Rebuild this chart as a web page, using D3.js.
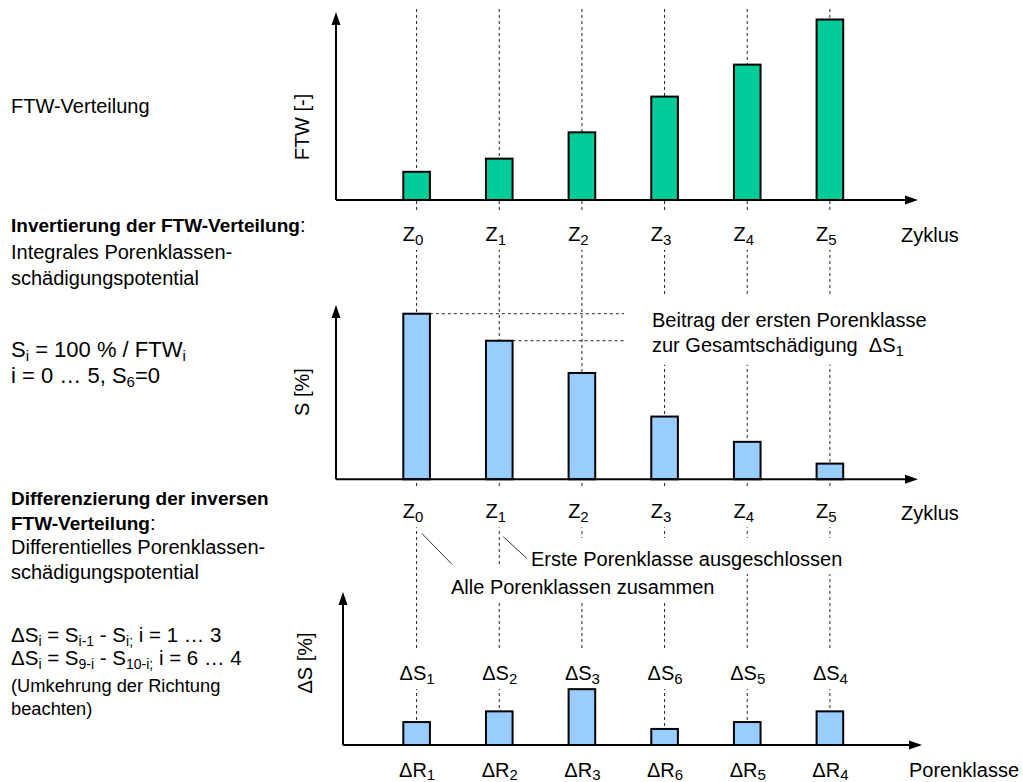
<!DOCTYPE html>
<html>
<head>
<meta charset="utf-8">
<script src="https://cdn.jsdelivr.net/npm/d3@7"></script>
<style>
  html, body { margin: 0; padding: 0; background: #fff; }
  svg { display: block; }
  text { font-family: "Liberation Sans", Arial, sans-serif; fill: #000; }
</style>
</head>
<body>
<svg id="chart" width="1023" height="782"></svg>
<script>
// ---------------- data ----------------
const cycleIndex = ["0", "1", "2", "3", "4", "5"];          // Z_i
const ftwValues = [1.5, 2.2, 3.6, 5.5, 7.2, 9.6];            // FTW [-] (schematic)
const damageValues = [95, 79.5, 61, 36, 21.5, 9];            // S [%]
const deltaSIndex = ["1", "2", "3", "6", "5", "4"];          // ΔS_i labels
const deltaRIndex = ["1", "2", "3", "6", "5", "4"];          // ΔR_i labels
const deltaSValues = [15, 22, 36.5, 10.5, 15, 22];           // ΔS [%]

// ---------------- setup ----------------
const svg = d3.select("#chart");
const FONT = 20;
const idx = d3.range(cycleIndex.length);

const x = d3.scalePoint().domain(idx).range([416.6, 829.9]);
const barW = x.step() * 0.322;

const yTop = d3.scaleLinear().domain([0, 10]).range([200, 12]);
const yMid = d3.scaleLinear().domain([0, 100]).range([479.3, 305]);
const yBot = d3.scaleLinear().domain([0, 100]).range([745, 592]);

const gLines = svg.append("g");
const gBoxes = svg.append("g");
const gText = svg.append("g");
const gBars = svg.append("g");
const gAxes = svg.append("g");

// rich text helper: parts = [[str, style]], style: "n" normal, "s" subscript, "b" bold
function rich(sel, parts, subSize, subShift, boldSize) {
  let off = 0;
  parts.forEach(([s, st]) => {
    const t = sel.append("tspan").text(s);
    if (st === "s") {
      t.attr("font-size", subSize).attr("dy", subShift - off);
      off = subShift;
    } else {
      if (off !== 0) t.attr("dy", -off);
      off = 0;
      if (st === "b") {
        t.attr("font-weight", "bold");
        if (boldSize) t.attr("font-size", boldSize);
      }
    }
  });
  return sel;
}

// white box behind a text node
function boxBehind(textSel, pad) {
  const bb = textSel.node().getBBox();
  gBoxes.append("rect")
    .attr("x", bb.x - pad[3]).attr("y", bb.y - pad[0])
    .attr("width", bb.width + pad[1] + pad[3])
    .attr("height", bb.height + pad[0] + pad[2])
    .attr("fill", "#fff");
}

// ---------------- dashed guide lines ----------------
gLines.selectAll("line.guide").data(idx).join("line")
  .attr("class", "guide")
  .attr("x1", d => x(d)).attr("x2", d => x(d))
  .attr("y1", 9).attr("y2", yBot(0))
  .attr("stroke", "#222").attr("stroke-width", 1)
  .attr("stroke-dasharray", "3,3");

// horizontal leaders in middle chart
const leaderEnds = [624, 628];
[0, 1].forEach((i) => {
  gLines.append("line")
    .attr("x1", x(i) + barW / 2).attr("x2", leaderEnds[i])
    .attr("y1", yMid(damageValues[i])).attr("y2", yMid(damageValues[i]))
    .attr("stroke", "#222").attr("stroke-width", 1)
    .attr("stroke-dasharray", "3,3");
});

// callout diagonals
gLines.append("line").attr("x1", 421.7).attr("y1", 533.3).attr("x2", 452.7).attr("y2", 565)
  .attr("stroke", "#333").attr("stroke-width", 1);
gLines.append("line").attr("x1", 503.3).attr("y1", 536.7).attr("x2", 526.7).attr("y2", 558.3)
  .attr("stroke", "#333").attr("stroke-width", 1);

// ---------------- axes & category labels ----------------
function catAxis(yPos, labels, prefix, dx, baselineOff, withBox, subShift) {
  const ax = d3.axisBottom(x).tickSize(0).tickFormat("");
  const g = gText.append("g").attr("transform", `translate(0,${yPos})`).call(ax);
  g.select(".domain").remove();
  g.selectAll(".tick text").remove();
  g.selectAll(".tick").each(function (d) {
    const tick = d3.select(this);
    const t = tick.append("text")
      .attr("x", dx).attr("y", baselineOff)
      .attr("text-anchor", "middle")
      .attr("font-size", FONT);
    rich(t, [[prefix, "n"], [labels[d], "s"]], 15, subShift);
    if (withBox) {
      const bb = t.node().getBBox();
      tick.insert("rect", "text")
        .attr("x", bb.x - 2).attr("y", bb.y - 13)
        .attr("width", bb.width + 4).attr("height", bb.height + 15)
        .attr("fill", "#fff");
    }
  });
  return g;
}

catAxis(yTop(0), cycleIndex, "Z", -4, 41, true, 4);
catAxis(yMid(0), cycleIndex, "Z", -4, 39, true, 4);
catAxis(yBot(0) - 65, deltaSIndex, "ΔS", 0, 0, true, 4);
catAxis(yBot(0), deltaRIndex, "ΔR", 0, 32, false, 3);

// axis arrows
function arrowAxes(x0, y0, yTip, xTip) {
  gAxes.append("path")
    .attr("d", `M${x0},${y0}V${yTip + 10}M${x0},${y0}H${xTip - 10}`)
    .attr("stroke", "#000").attr("stroke-width", 2).attr("fill", "none");
  gAxes.append("path")
    .attr("d", `M${x0},${yTip}L${x0 - 4.5},${yTip + 13}L${x0 + 4.5},${yTip + 13}Z`)
    .attr("fill", "#000");
  gAxes.append("path")
    .attr("d", `M${xTip},${y0}L${xTip - 13},${y0 - 4.5}L${xTip - 13},${y0 + 4.5}Z`)
    .attr("fill", "#000");
}
arrowAxes(336, yTop(0), 12, 918);
arrowAxes(336, yMid(0), 305, 918);
arrowAxes(343, yBot(0), 592, 922);

// ---------------- bars ----------------
gBars.selectAll("rect.ftw").data(ftwValues).join("rect")
  .attr("class", "ftw")
  .attr("x", (d, i) => x(i) - barW / 2).attr("width", barW)
  .attr("y", d => yTop(d)).attr("height", d => yTop(0) - yTop(d))
  .attr("fill", "#00CC99").attr("stroke", "#000").attr("stroke-width", 2);

gBars.selectAll("rect.dmg").data(damageValues).join("rect")
  .attr("class", "dmg")
  .attr("x", (d, i) => x(i) - barW / 2).attr("width", barW)
  .attr("y", d => yMid(d)).attr("height", d => yMid(0) - yMid(d))
  .attr("fill", "#99CCFF").attr("stroke", "#000").attr("stroke-width", 2);

gBars.selectAll("rect.ds").data(deltaSValues).join("rect")
  .attr("class", "ds")
  .attr("x", (d, i) => x(i) - barW / 2).attr("width", barW)
  .attr("y", d => yBot(d)).attr("height", d => yBot(0) - yBot(d))
  .attr("fill", "#99CCFF").attr("stroke", "#000").attr("stroke-width", 2);

// ---------------- annotations on the right ----------------
function noteLines(xp, y0, lines, pad) {
  const t = gText.append("text").attr("x", xp).attr("y", y0).attr("font-size", FONT)
    .style("white-space", "pre");
  lines.forEach((parts, li) => {
    const line = t.append("tspan").attr("x", xp).attr("y", y0 + li * 25);
    rich(line, parts, 15, 4);
  });
  boxBehind(t, pad);
  return t;
}
noteLines(652, 326.7, [
  [["Beitrag der ersten Porenklasse", "n"]],
  [["zur Gesamtschädigung  ΔS", "n"], ["1", "s"]]
], [14, 6, 6, 26]);
noteLines(531, 566, [[["Erste Porenklasse ausgeschlossen", "n"]]], [10, 4, 4, 4]);
noteLines(451, 594.3, [[["Alle Porenklassen zusammen", "n"]]], [12, 4, 4, 4]);

// axis titles
gText.append("text").attr("x", 901).attr("y", yTop(0) + 42).attr("font-size", FONT).text("Zyklus");
gText.append("text").attr("x", 901).attr("y", yMid(0) + 41).attr("font-size", FONT).text("Zyklus");
gText.append("text").attr("x", 909).attr("y", 777).attr("font-size", FONT).text("Porenklasse");

function vTitle(cx, cy, str) {
  gText.append("text")
    .attr("transform", `translate(${cx},${cy}) rotate(-90)`)
    .attr("text-anchor", "middle").attr("dy", "0.36em")
    .attr("font-size", FONT).text(str);
}
vTitle(302, 127, "FTW [-]");
vTitle(302, 392, "S [%]");
vTitle(305, 663, "ΔS [%]");

// ---------------- left description ----------------
const leftLines = [
  { y: 112.7, parts: [["FTW-Verteilung", "n"]] },
  { y: 232, parts: [["Invertierung der FTW-Verteilung", "b"], [":", "n"]] },
  { y: 258.5, parts: [["Integrales Porenklassen-", "n"]] },
  { y: 285, parts: [["schädigungspotential", "n"]] },
  { y: 356.5, size: 22, sub: 15, parts: [["S", "n"], ["i", "s"], [" = 100 % / FTW", "n"], ["i", "s"]] },
  { y: 383, size: 22, sub: 15, parts: [["i = 0 … 5, S", "n"], ["6", "s"], ["=0", "n"]] },
  { y: 505, parts: [["Differenzierung der inversen", "b"]] },
  { y: 529.5, parts: [["FTW-Verteilung", "b"], [":", "n"]] },
  { y: 554, parts: [["Differentielles Porenklassen-", "n"]] },
  { y: 578.5, parts: [["schädigungspotential", "n"]] },
  { y: 641.5, size: 20.5, parts: [["ΔS", "n"], ["i", "s"], [" = S", "n"], ["i-1", "s"], [" - S", "n"], ["i;", "s"], [" i = 1 … 3", "n"]] },
  { y: 665, size: 20.5, parts: [["ΔS", "n"], ["i", "s"], [" = S", "n"], ["9-i", "s"], [" - S", "n"], ["10-i;", "s"], [" i = 6 … 4", "n"]] },
  { y: 691.5, size: 18.3, parts: [["(Umkehrung der Richtung", "n"]] },
  { y: 714.5, size: 18.3, parts: [["beachten)", "n"]] }
];
leftLines.forEach(l => {
  const t = gText.append("text").attr("x", 11).attr("y", l.y)
    .attr("font-size", l.size || FONT).style("white-space", "pre");
  rich(t, l.parts, l.sub || 14, 4, 19);
});
</script>
</body>
</html>
